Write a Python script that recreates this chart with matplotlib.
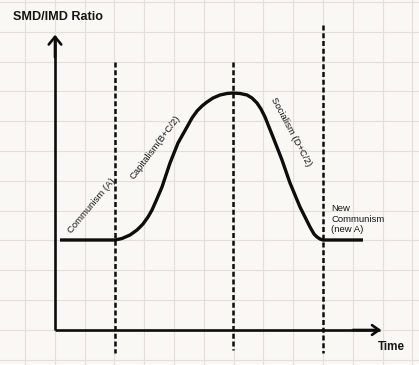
import numpy as np
import matplotlib
matplotlib.use('Agg')
import matplotlib.pyplot as plt

plt.rcParams['font.family'] = ['Liberation Sans', 'DejaVu Sans']

# curve (x = time, y = ratio, in the picture's own units, y grows downward)
time_pts = [60, 115, 122, 130, 137, 143, 148, 152, 156, 162, 170, 178, 187, 192,
            197, 202, 207, 213, 220, 227, 233, 240, 247, 252, 257, 261, 265, 273,
            282, 290, 300, 305, 310, 314, 317, 320, 323, 363]
ratio_pts = [240, 240, 238.5, 235, 230, 224, 217, 210, 201, 187, 163, 143, 127, 118,
             111, 106, 102, 98, 95, 93.5, 93, 93.5, 95, 98, 103, 109, 117, 137,
             160, 183, 207, 217, 227, 234, 237, 239, 240, 240]

# dashed phase boundaries: x, top, bottom
phase_x = [115, 233, 323]
phase_top = [62, 62, 25]
phase_bottom = [353, 350, 353]

# phase labels: text, x, y, angle
phase_labels = ['Communism (A)', 'Capitalism(B+C/2)', 'Socialism (D+C/2)']
label_x = [92, 155, 291]
label_y = [206, 147, 132]
label_rot = [50, 53, -62]

BG = '#faf8f4'
INK = '#0d0d0d'
TXT = '#151515'

fig = plt.figure(figsize=(4.19, 3.65), dpi=100, facecolor=BG)
ax = fig.add_axes([0, 0, 1, 1])
ax.set_facecolor(BG)
ax.set_xlim(0, 419)
ax.set_ylim(365, 0)

# notebook grid
ax.set_xticks(np.arange(25, 419, 29.8))
ax.set_yticks(np.arange(2, 365, 29.8))
ax.grid(True, color='#e3dfd9', linewidth=0.8)
ax.tick_params(length=0, labelbottom=False, labelleft=False)
for s in ax.spines.values():
    s.set_visible(False)

# axes with arrows
ax.plot([55, 55], [330, 36], color=INK, lw=1.9, solid_capstyle='butt')
ax.plot([55, 380], [330, 330], color=INK, lw=1.9, solid_capstyle='butt')
ax.annotate('', xy=(55, 32), xytext=(55, 60),
            arrowprops=dict(arrowstyle='->,head_length=0.55,head_width=0.45', lw=1.9, color=INK))
ax.annotate('', xy=(384, 330), xytext=(350, 330),
            arrowprops=dict(arrowstyle='->,head_length=0.5,head_width=0.35', lw=1.9, color=INK))

# dashed phase lines
for x, t, b in zip(phase_x, phase_top, phase_bottom):
    ax.plot([x, x], [t, b], color=INK, lw=1.8, dashes=(2.0, 1.1))

# the curve
ax.plot(time_pts, ratio_pts, color=INK, lw=2.4, solid_joinstyle='round', solid_capstyle='butt')

# labels
for txt, x, y, r in zip(phase_labels, label_x, label_y, label_rot):
    ax.text(x, y, txt, rotation=r, ha='center', va='center', fontsize=6.8,
            color=TXT, rotation_mode='anchor')
ax.text(331, 219, 'New\nCommunism\n(new A)', ha='left', va='center', fontsize=6.8,
        color=TXT, linespacing=1.15)

ax.text(13, 17, 'SMD/IMD Ratio', ha='left', va='center', fontsize=9.1,
        fontweight='bold', color=TXT)
ax.text(391, 347, 'Time', ha='center', va='center', fontsize=8.4,
        fontweight='bold', color=TXT)

fig.savefig('out.png', dpi=100, facecolor=BG)
